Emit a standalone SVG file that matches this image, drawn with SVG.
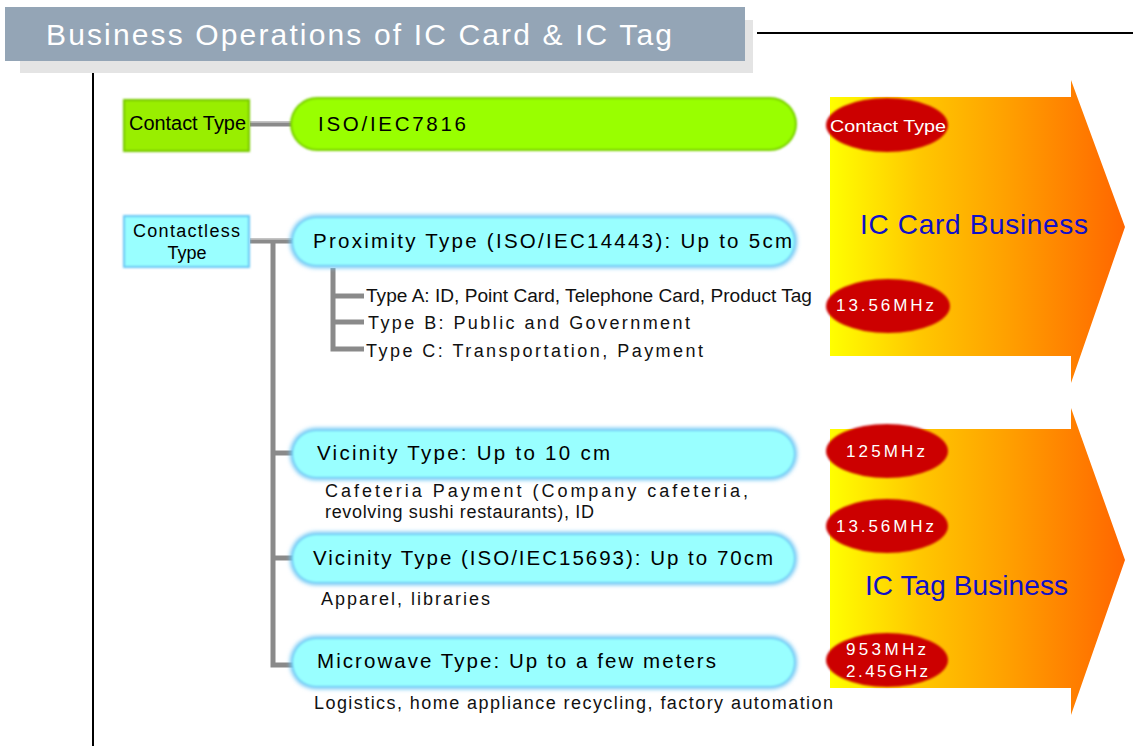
<svg xmlns="http://www.w3.org/2000/svg" width="1133" height="746" viewBox="0 0 1133 746">
  <style>
    text { font-family: "Liberation Sans", Arial, sans-serif; }
    .title { font-size: 30px; fill: #ffffff; }
    .box-label { font-size: 20px; fill: #000000; }
    .box-label-2 { font-size: 18px; fill: #000000; }
    .pill-label { font-size: 20.5px; fill: #000000; }
    .note { font-size: 18px; fill: #111111; }
    .freq { font-size: 17px; fill: #ffffff; }
    .biz { font-size: 28px; fill: #1010c8; }
    .wire { stroke: #8a8a8a; stroke-width: 5; fill: none; }
    .wire-hi { stroke: #b5b5b5; stroke-width: 1; fill: none; }
    .rule { stroke: #000000; stroke-width: 2; }
  </style>
  <defs>
    <linearGradient id="bizGrad" x1="830" y1="0" x2="1125" y2="0" gradientUnits="userSpaceOnUse">
      <stop offset="0" stop-color="#ffff00"/>
      <stop offset="0.3" stop-color="#ffc800"/>
      <stop offset="0.6" stop-color="#ffa000"/>
      <stop offset="1" stop-color="#ff6600"/>
    </linearGradient>
    <filter id="soft" x="-10%" y="-20%" width="120%" height="140%">
      <feGaussianBlur stdDeviation="1.2"/>
    </filter>
    <filter id="softer" x="-10%" y="-20%" width="120%" height="140%">
      <feGaussianBlur stdDeviation="2"/>
    </filter>
  </defs>

  <rect width="1133" height="746" fill="#ffffff"/>

  <!-- heading bar -->
  <g id="heading">
    <rect x="20" y="20" width="733" height="53" fill="#e4e4e4"/>
    <rect x="5" y="7" width="740" height="54" fill="#94a5b6"/>
    <text class="title" x="46" y="45" textLength="626" lengthAdjust="spacing">Business Operations of IC Card &amp; IC Tag</text>
    <line class="rule" x1="757" y1="33" x2="1133" y2="33"/>
    <line class="rule" x1="93" y1="73" x2="93" y2="746"/>
  </g>

  <!-- business arrows -->
  <g id="card-business">
    <path d="M830 97 H1071 V80 L1125 227 L1071 383 V356 H830 Z" fill="url(#bizGrad)"/>
    <text class="biz" x="860" y="234" textLength="228" lengthAdjust="spacing">IC Card Business</text>
  </g>
  <g id="tag-business">
    <path d="M830 429 H1071 V408 L1125 560 L1071 715 V688 H830 Z" fill="url(#bizGrad)"/>
    <text class="biz" x="865" y="595" textLength="203" lengthAdjust="spacing">IC Tag Business</text>
  </g>

  <!-- connectors -->
  <g id="connectors">
    <line class="wire" x1="250" y1="124" x2="294" y2="124"/>
    <line class="wire" x1="250" y1="241" x2="294" y2="241"/>
    <path class="wire" d="M273 241 V665 H294"/>
    <line class="wire" x1="273" y1="453" x2="294" y2="453"/>
    <line class="wire" x1="273" y1="558" x2="294" y2="558"/>
    <path class="wire" d="M333 268 V349 H364" stroke-width="4"/>
    <line class="wire" x1="333" y1="296" x2="364" y2="296" stroke-width="4"/>
    <line class="wire" x1="333" y1="322" x2="364" y2="322" stroke-width="4"/>
    <line class="wire-hi" x1="250" y1="122.5" x2="292" y2="122.5"/>
    <line class="wire-hi" x1="250" y1="239.5" x2="292" y2="239.5"/>
  </g>

  <!-- contact branch -->
  <g id="contact-type">
    <rect x="123" y="99" width="127" height="53" fill="#77c800" filter="url(#soft)"/>
    <rect x="125" y="101" width="123" height="49" fill="#99ee00" filter="url(#soft)"/>
    <text class="box-label" x="129" y="130" textLength="117" lengthAdjust="spacingAndGlyphs">Contact Type</text>
  </g>
  <g id="iso7816">
    <rect x="290" y="97" width="507" height="54" rx="27" fill="#7ad000" filter="url(#soft)"/>
    <rect x="292" y="99" width="503" height="50" rx="25" fill="#99ff00" filter="url(#soft)"/>
    <text class="pill-label" x="318" y="131" textLength="148" lengthAdjust="spacing">ISO/IEC7816</text>
  </g>

  <!-- contactless branch -->
  <g id="contactless-type">
    <rect x="123" y="215" width="127" height="53" fill="#6cc6f4" filter="url(#soft)"/>
    <rect x="125" y="217" width="123" height="49" fill="#99ffff" filter="url(#soft)"/>
    <text class="box-label-2" x="133" y="237" textLength="107" lengthAdjust="spacing">Contactless</text>
    <text class="box-label-2" x="187" y="259" text-anchor="middle">Type</text>
  </g>

  <g id="proximity">
    <rect x="290" y="215" width="507" height="53" rx="26" fill="#6cc6f4" filter="url(#softer)"/>
    <rect x="293" y="218" width="501" height="47" rx="23" fill="#99ffff" filter="url(#soft)"/>
    <text class="pill-label" x="313" y="248" textLength="479" lengthAdjust="spacing">Proximity Type (ISO/IEC14443): Up to 5cm</text>
  </g>
  <g id="proximity-types">
    <text class="note" x="366" y="302" textLength="446" lengthAdjust="spacingAndGlyphs">Type A: ID, Point Card, Telephone Card, Product Tag</text>
    <text class="note" x="368" y="329" textLength="322" lengthAdjust="spacing">Type B: Public and Government</text>
    <text class="note" x="366" y="357" textLength="337" lengthAdjust="spacing">Type C: Transportation, Payment</text>
  </g>

  <g id="vicinity-10">
    <rect x="290" y="428" width="507" height="52" rx="26" fill="#6cc6f4" filter="url(#softer)"/>
    <rect x="293" y="431" width="501" height="46" rx="23" fill="#99ffff" filter="url(#soft)"/>
    <text class="pill-label" x="317" y="460" textLength="293" lengthAdjust="spacing">Vicinity Type: Up to 10 cm</text>
    <text class="note"><tspan x="325" y="497" textLength="423" lengthAdjust="spacing">Cafeteria Payment (Company cafeteria,</tspan><tspan x="325" y="518" textLength="269" lengthAdjust="spacing">revolving sushi restaurants), ID</tspan></text>
  </g>

  <g id="vicinity-15693">
    <rect x="290" y="532" width="507" height="53" rx="26" fill="#6cc6f4" filter="url(#softer)"/>
    <rect x="293" y="535" width="501" height="47" rx="23" fill="#99ffff" filter="url(#soft)"/>
    <text class="pill-label" x="313" y="565" textLength="460" lengthAdjust="spacing">Vicinity Type (ISO/IEC15693): Up to 70cm</text>
    <text class="note" x="321" y="605" textLength="169" lengthAdjust="spacing">Apparel, libraries</text>
  </g>

  <g id="microwave">
    <rect x="290" y="636" width="507" height="53" rx="26" fill="#6cc6f4" filter="url(#softer)"/>
    <rect x="293" y="639" width="501" height="47" rx="23" fill="#99ffff" filter="url(#soft)"/>
    <text class="pill-label" x="317" y="668" textLength="399" lengthAdjust="spacing">Microwave Type: Up to a few meters</text>
    <text class="note" x="314" y="709" textLength="519" lengthAdjust="spacing">Logistics, home appliance recycling, factory automation</text>
  </g>

  <!-- frequency badges -->
  <g id="badge-contact">
    <ellipse cx="887" cy="125" rx="61" ry="27" fill="#cc0000" filter="url(#soft)"/>
    <text class="freq" x="830" y="132" textLength="116" lengthAdjust="spacingAndGlyphs">Contact Type</text>
  </g>
  <g id="badge-card-1356">
    <ellipse cx="888" cy="306" rx="62" ry="27" fill="#cc0000" filter="url(#soft)"/>
    <text class="freq" x="836" y="311" textLength="98" lengthAdjust="spacing">13.56MHz</text>
  </g>
  <g id="badge-125">
    <ellipse cx="887" cy="451" rx="61" ry="27" fill="#cc0000" filter="url(#soft)"/>
    <text class="freq" x="846" y="457" textLength="79" lengthAdjust="spacing">125MHz</text>
  </g>
  <g id="badge-tag-1356">
    <ellipse cx="887" cy="526" rx="61" ry="27" fill="#cc0000" filter="url(#soft)"/>
    <text class="freq" x="836" y="532" textLength="98" lengthAdjust="spacing">13.56MHz</text>
  </g>
  <g id="badge-uhf">
    <ellipse cx="887" cy="660" rx="61" ry="27" fill="#cc0000" filter="url(#soft)"/>
    <text class="freq"><tspan x="846" y="655" textLength="80" lengthAdjust="spacing">953MHz</tspan><tspan x="846" y="677" textLength="82" lengthAdjust="spacing">2.45GHz</tspan></text>
  </g>
</svg>
